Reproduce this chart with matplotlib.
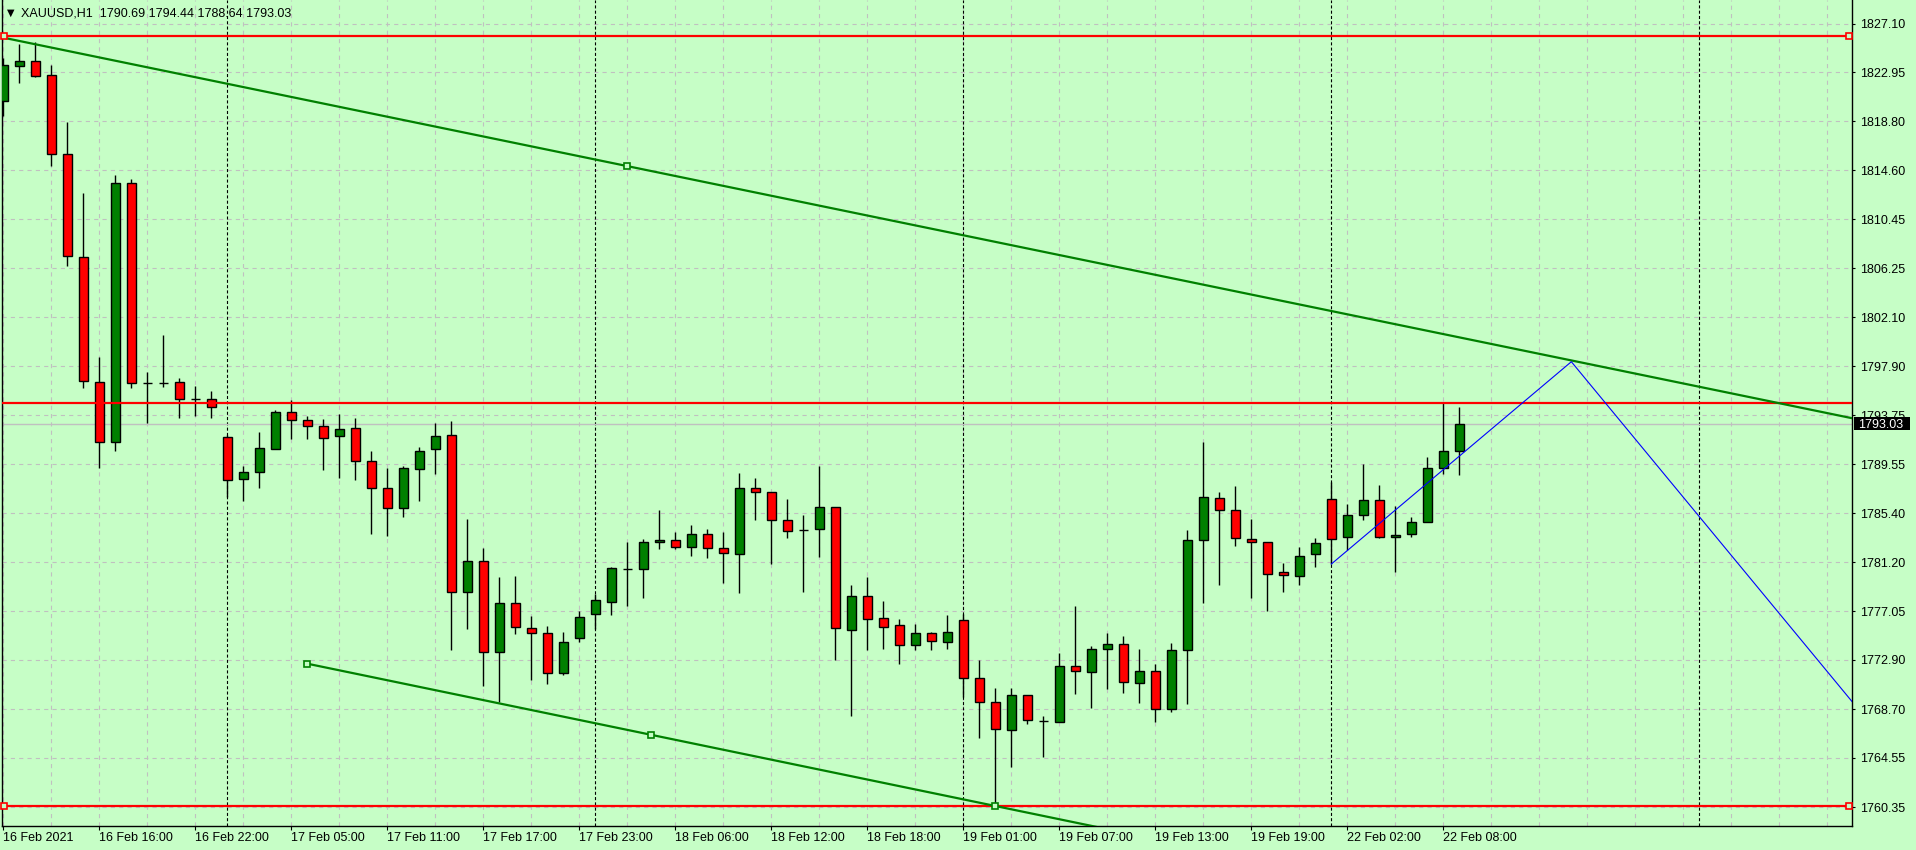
import matplotlib
matplotlib.use("Agg")
import matplotlib.pyplot as plt
from matplotlib.patches import Rectangle
import numpy as np

plt.rcParams['font.family'] = ['Liberation Sans', 'DejaVu Sans']
plt.rcParams['lines.scale_dashes'] = False

# ---------------- data ----------------
opens = [1820.48, 1823.51, 1823.89, 1822.69, 1815.97, 1807.19, 1796.55, 1791.44, 1813.50, 1796.51,
         1796.46, 1796.55, 1795.10, 1795.10, 1791.86, 1788.34, 1788.88, 1790.84, 1794.00, 1793.31,
         1792.80, 1791.95, 1792.63, 1789.82, 1787.52, 1785.82, 1789.14, 1790.84, 1792.03, 1778.66,
         1781.30, 1773.60, 1777.72, 1775.59, 1775.17, 1771.76, 1774.74, 1776.79, 1777.81, 1780.68,
         1780.62, 1782.95, 1783.12, 1782.50, 1783.60, 1782.41, 1781.90, 1787.52, 1787.18, 1784.79,
         1783.94, 1784.03, 1785.90, 1775.48, 1778.35, 1776.45, 1775.85, 1774.15, 1775.19, 1774.40,
         1776.28, 1771.34, 1769.29, 1766.91, 1769.89, 1767.67, 1767.64, 1772.36, 1771.85, 1773.81,
         1774.23, 1770.91, 1771.93, 1768.70, 1773.72, 1783.09, 1786.67, 1785.65, 1783.18, 1782.92,
         1780.36, 1780.02, 1781.90, 1786.58, 1783.35, 1785.22, 1786.50, 1783.35, 1783.60, 1784.62,
         1789.22, 1790.69]
highs = [1824.14, 1825.36, 1825.53, 1823.57, 1818.72, 1812.67, 1798.70, 1814.20, 1813.84, 1797.42,
         1800.57, 1796.89, 1796.23, 1795.80, 1792.06, 1789.42, 1792.31, 1794.19, 1795.04, 1793.68,
         1793.42, 1793.86, 1793.51, 1790.70, 1789.25, 1789.42, 1791.04, 1793.11, 1793.25, 1784.90,
         1782.41, 1779.94, 1780.05, 1776.64, 1775.79, 1775.28, 1777.07, 1778.49, 1780.79, 1782.92,
         1783.17, 1785.67, 1783.80, 1784.39, 1784.05, 1783.80, 1788.82, 1788.37, 1787.18, 1786.61,
         1785.24, 1789.44, 1785.90, 1779.28, 1779.96, 1777.92, 1776.39, 1775.96, 1775.28, 1776.73,
         1776.81, 1772.89, 1770.54, 1770.51, 1769.89, 1768.12, 1773.49, 1777.50, 1774.09, 1775.19,
         1774.91, 1773.81, 1772.53, 1774.32, 1783.97, 1791.46, 1787.20, 1787.71, 1784.90, 1782.92,
         1781.16, 1782.49, 1783.26, 1788.03, 1786.16, 1789.56, 1787.78, 1785.99, 1785.05, 1790.16,
         1794.81, 1794.44]
lows = [1819.25, 1822.06, 1822.58, 1815.00, 1806.48, 1796.09, 1789.27, 1790.72, 1796.09, 1793.11,
        1796.17, 1793.53, 1793.68, 1793.53, 1786.75, 1786.46, 1787.57, 1790.84, 1791.74, 1791.74,
        1789.10, 1788.42, 1788.25, 1783.65, 1783.48, 1785.10, 1786.46, 1788.76, 1773.77, 1775.56,
        1770.71, 1769.30, 1775.13, 1771.19, 1770.88, 1771.59, 1774.45, 1775.53, 1776.75, 1777.52,
        1778.14, 1782.37, 1782.37, 1781.78, 1781.61, 1779.48, 1778.63, 1784.82, 1781.10, 1783.28,
        1778.69, 1781.69, 1772.89, 1768.15, 1773.75, 1773.83, 1772.58, 1773.75, 1773.75, 1773.83,
        1769.77, 1766.28, 1760.46, 1763.81, 1767.42, 1764.66, 1767.64, 1770.03, 1768.83, 1770.43,
        1770.11, 1769.26, 1767.64, 1768.49, 1769.17, 1777.77, 1779.31, 1782.63, 1778.18, 1777.09,
        1778.72, 1779.28, 1780.84, 1781.05, 1782.24, 1784.84, 1783.26, 1780.42, 1783.35, 1784.62,
        1788.71, 1788.64]
closes = [1823.55, 1823.89, 1822.66, 1815.97, 1807.28, 1796.63, 1791.44, 1813.50, 1796.46, 1796.46,
          1796.51, 1795.10, 1795.10, 1794.42, 1788.20, 1788.88, 1790.93, 1794.00, 1793.31, 1792.80,
          1791.78, 1792.54, 1789.82, 1787.52, 1785.82, 1789.22, 1790.67, 1791.95, 1778.66, 1781.30,
          1773.60, 1777.72, 1775.68, 1775.17, 1771.76, 1774.40, 1776.53, 1777.98, 1780.71, 1780.65,
          1782.92, 1783.12, 1782.50, 1783.60, 1782.41, 1781.99, 1787.52, 1787.23, 1784.79, 1783.86,
          1783.94, 1785.90, 1775.59, 1778.35, 1776.41, 1775.73, 1774.15, 1775.17, 1774.49, 1775.25,
          1771.39, 1769.29, 1766.99, 1769.89, 1767.76, 1767.67, 1772.36, 1771.93, 1773.81, 1774.23,
          1770.99, 1771.93, 1768.70, 1773.72, 1783.09, 1786.75, 1785.65, 1783.26, 1782.92, 1780.19,
          1780.11, 1781.73, 1782.83, 1783.18, 1785.22, 1786.50, 1783.35, 1783.52, 1784.62, 1789.22,
          1790.67, 1793.03]

x_labels = ["16 Feb 2021", "16 Feb 16:00", "16 Feb 22:00", "17 Feb 05:00", "17 Feb 11:00",
            "17 Feb 17:00", "17 Feb 23:00", "18 Feb 06:00", "18 Feb 12:00", "18 Feb 18:00",
            "19 Feb 01:00", "19 Feb 07:00", "19 Feb 13:00", "19 Feb 19:00", "22 Feb 02:00",
            "22 Feb 08:00"]
price_ticks = [1827.10, 1822.95, 1818.80, 1814.60, 1810.45, 1806.25, 1802.10, 1797.90, 1793.75,
               1789.55, 1785.40, 1781.20, 1777.05, 1772.90, 1768.70, 1764.55, 1760.35]
day_start_bars = [14, 37, 60, 83, 106]

red_levels = [1826.07, 1794.81, 1760.46]
upper_trend_bars = [0, 39]
upper_trend_prices = [1825.90, 1814.96]
lower_trend_bars = [19, 62]
lower_trend_prices = [1772.58, 1760.46]
zigzag_bars = [83, 98, 117]
zigzag_prices = [1781.07, 1798.30, 1766.95]

symbol = "XAUUSD,H1"

# ---------------- figure ----------------
BG = '#c6fec6'
W, H = 1916, 850
fig = plt.figure(figsize=(W / 100, H / 100), dpi=100, facecolor=BG)
ax = fig.add_axes([2 / W, 1 - 826 / H, (1852 - 2) / W, 826 / H], facecolor=BG)
x0, x1 = -0.08, 115.54
ax.set_xlim(x0, x1)
ax.set_ylim(1758.756, 1829.108)

n = len(opens)
xs = np.arange(n)
o = np.array(opens); c = np.array(closes); hi = np.array(highs); lo = np.array(lows)

# grid
gcol = '#c0c0c0'
for p in price_ticks:
    ax.axhline(p, color=gcol, lw=0.8, ls=(0, (3, 3)), zorder=1)
for b in range(0, int(x1) + 1, 3):
    ax.axvline(b, color=gcol, lw=0.8, ls=(0, (3, 3)), zorder=1)
for b in day_start_bars:
    ax.axvline(b, color='black', lw=0.8, ls=(0, (2.2, 1.6)), zorder=1.5)

# current price line
ax.axhline(closes[-1], color='#c0c0c0', lw=1.0, zorder=1.6)

# candles
cols = np.where(c > o, '#008000', np.where(c < o, '#ff0000', 'black'))
ax.vlines(xs, lo, hi, color='black', lw=1.0, zorder=3)
ax.bar(xs, np.maximum(np.abs(c - o), 0.0005), bottom=np.minimum(o, c), width=0.56,
       color=cols, edgecolor='black', linewidth=1.0, zorder=4)

# horizontal red levels
for p in red_levels:
    ax.axhline(p, color='#ff0000', lw=1.6, zorder=5)
for p in (red_levels[0], red_levels[2]):
    ax.plot([x0 + 0.12, x1 - 0.2], [p, p], ls='none', marker='s', ms=4, mfc=BG,
            mec='#ff0000', mew=1.2, zorder=6, clip_on=False)

# upper trend line (extended both ways)
s_up = (upper_trend_prices[1] - upper_trend_prices[0]) / (upper_trend_bars[1] - upper_trend_bars[0])
ax.plot([x0 - 1, x1 + 1], [upper_trend_prices[0] + s_up * (x0 - 1 - upper_trend_bars[0]),
                           upper_trend_prices[0] + s_up * (x1 + 1 - upper_trend_bars[0])],
        color='#008000', lw=1.6, zorder=5)
ax.plot([upper_trend_bars[1]], [upper_trend_prices[1]], ls='none', marker='s', ms=4, mfc=BG,
        mec='#008000', mew=1.2, zorder=6)

# lower trend line (ray to the right)
s_lo = (lower_trend_prices[1] - lower_trend_prices[0]) / (lower_trend_bars[1] - lower_trend_bars[0])
ax.plot([lower_trend_bars[0], x1 + 1], [lower_trend_prices[0],
                                        lower_trend_prices[0] + s_lo * (x1 + 1 - lower_trend_bars[0])],
        color='#008000', lw=1.6, zorder=5)
mid_b = (lower_trend_bars[0] + lower_trend_bars[1]) / 2
ax.plot([lower_trend_bars[0], mid_b, lower_trend_bars[1]],
        [lower_trend_prices[0], (lower_trend_prices[0] + lower_trend_prices[1]) / 2, lower_trend_prices[1]],
        ls='none', marker='s', ms=4, mfc=BG, mec='#008000', mew=1.2, zorder=6)

# blue zigzag
ax.plot(zigzag_bars, zigzag_prices, color='#0000ff', lw=0.8, zorder=5)

# axes styling
for side in ('left', 'bottom', 'right'):
    ax.spines[side].set_color('black')
    ax.spines[side].set_linewidth(1.0)
ax.spines['top'].set_visible(False)

ax.set_xticks([6 * i for i in range(len(x_labels))])
ax.set_xticklabels(x_labels)
for lbl in ax.get_xticklabels():
    lbl.set_ha('left')
ax.tick_params(axis='x', direction='out', length=3, width=0.8, pad=1.5, labelsize=9,
               colors='black')

ax.yaxis.tick_right()
ax.set_yticks(price_ticks)
ax.set_yticklabels([f"{p:.2f}" for p in price_ticks])
ax.tick_params(axis='y', direction='out', length=2.5, width=0.8, pad=3, labelsize=9,
               colors='black')

# header
fig.text(7 / W, 1 - 13 / H, "\u25bc", fontsize=7, family='DejaVu Sans', va='center', ha='left')
fig.text(21 / W, 1 - 13 / H,
         f"{symbol}  {opens[-1]:.2f} {highs[-1]:.2f} {lows[-1]:.2f} {closes[-1]:.2f}",
         fontsize=9, va='center', ha='left', color='black')

# current price box
fig.canvas.draw()
ypix = ax.transData.transform((0, closes[-1]))[1]
fig.add_artist(Rectangle((1854 / W, (ypix - 6.5) / H), 56 / W, 13.5 / H,
                         transform=fig.transFigure, facecolor='black', edgecolor='none', zorder=5))
fig.text(1858 / W, ypix / H, f"{closes[-1]:.2f}", color='white', fontsize=9,
         va='center_baseline', ha='left', zorder=6)

fig.savefig('out.png', dpi=100, facecolor=BG)
